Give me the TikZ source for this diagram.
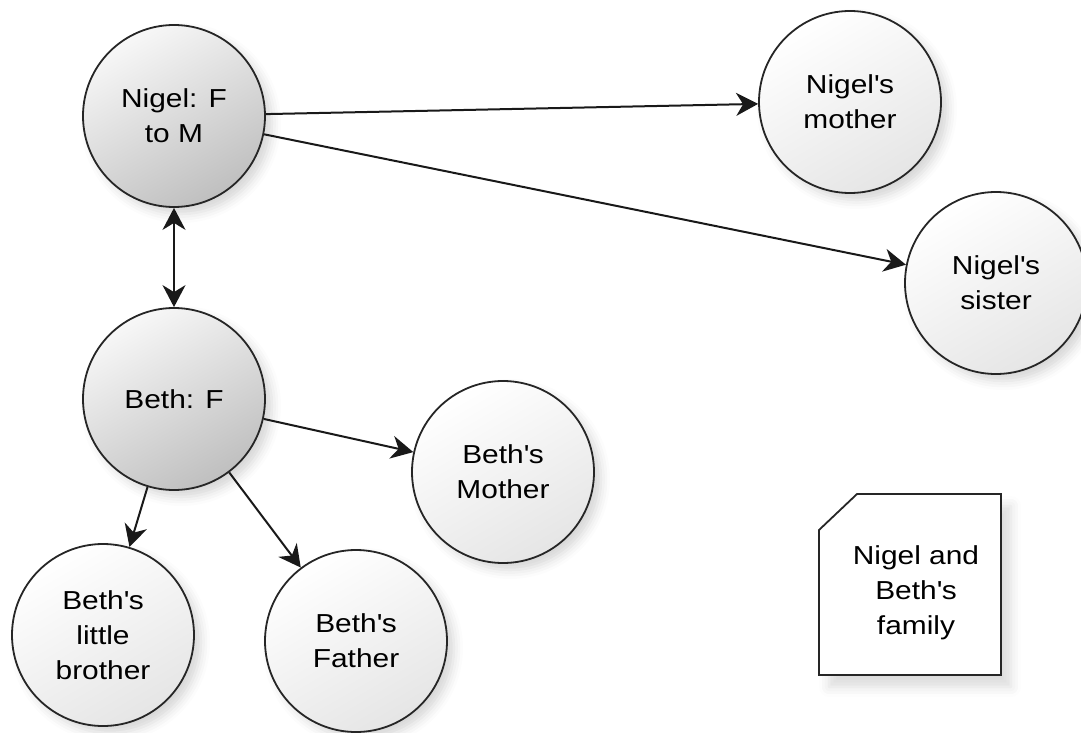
\documentclass[tikz,border=0pt]{standalone}
\usepackage{fontspec}
\setmainfont{Liberation Sans}[FakeStretch=1.15]
\usetikzlibrary{arrows.meta,shadows.blur}
\newcommand{\apos}{\textquotesingle}
\begin{document}
\begin{tikzpicture}[x=1pt,y=-1pt,
  >={Stealth[length=22pt,width=23pt,inset=7pt]},
  person/.style={circle, draw=black!85, line width=1.8pt, minimum size=182pt,
    inner sep=0pt, align=center, font=\fontsize{26}{35}\selectfont,
    blur shadow={shadow xshift=7pt, shadow yshift=-7pt, shadow blur radius=9pt, shadow opacity=16}},
  mainperson/.style={person, top color=black!3, bottom color=black!25, shading angle=30},
  relperson/.style={person, top color=white, bottom color=black!10, shading angle=30},
  link/.style={line width=2pt, draw=black!90, ->},
  bothlink/.style={line width=2pt, draw=black!90, <->},
  notebox/.style={draw=black!85, line width=1.8pt, fill=white,
    blur shadow={shadow xshift=10pt, shadow yshift=-12pt, shadow blur radius=10pt, shadow opacity=14}},
  notetext/.style={align=center, inner sep=0pt, font=\fontsize{26}{35}\selectfont}
]
\useasboundingbox (0,0) rectangle (1081,733);

\node[mainperson] (nigel)   at (174,116) {Nigel: F\\to M};
\node[relperson]  (nmother) at (850,102) {Nigel\apos s\\mother};
\node[relperson]  (nsister) at (996,283) {Nigel\apos s\\sister};
\node[mainperson] (beth)    at (174,399) {Beth: F};
\node[relperson]  (bmother) at (503,472) {Beth\apos s\\Mother};
\node[relperson]  (bbrother) at (103,635) {Beth\apos s\\little\\brother};
\node[relperson]  (bfather) at (356,641) {Beth\apos s\\Father};

\draw[link] (nigel) -- (nmother);
\draw[link] (nigel) -- (nsister);
\draw[bothlink] (nigel) -- (beth);
\draw[link] (beth) -- (bmother);
\draw[link] (beth) -- (bbrother);
\draw[link] (beth) -- (bfather);

\coordinate (n1) at (857,494);
\coordinate (n2) at (1001,494);
\coordinate (n3) at (1001,675);
\coordinate (n4) at (819,675);
\coordinate (n5) at (819,530);
\path[notebox] (n1) -- (n2) -- (n3) -- (n4) -- (n5) -- cycle;
\node[notetext] (notelabel) at (916,593) {Nigel and\\Beth\apos s\\family};
\end{tikzpicture}
\end{document}
